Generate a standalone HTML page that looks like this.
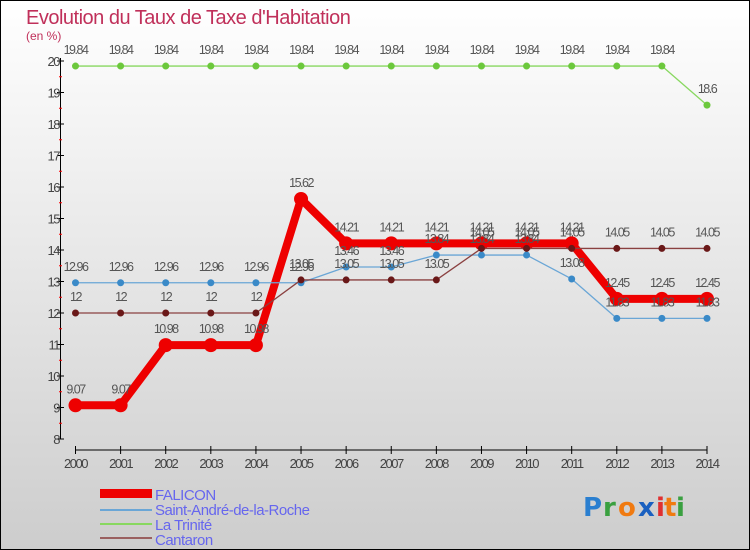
<!DOCTYPE html>
<html><head><meta charset="utf-8"><style>
body{margin:0;padding:0}
svg{display:block;font-family:"Liberation Sans",sans-serif}
</style></head><body>
<svg width="750" height="550" viewBox="0 0 750 550">
<defs><linearGradient id="bg" x1="0" y1="0" x2="0" y2="1"><stop offset="0" stop-color="#ffffff"/><stop offset="1" stop-color="#cdcdcd"/></linearGradient></defs>
<rect x="0.5" y="0.5" width="749" height="549" fill="url(#bg)" stroke="#000"/>
<text x="26" y="24" font-size="20" fill="#c0305a" letter-spacing="-0.5">Evolution du Taux de Taxe d'Habitation</text>
<text x="26" y="40" font-size="12" fill="#c0305a">(en %)</text>
<g id="axes"></g>
<g id="series"></g>
<g>
<rect x="100" y="489" width="52" height="9" fill="#e00"/>
<text x="155" y="500" font-size="15" fill="#6666ee" letter-spacing="-0.5">FALICON</text>
<line x1="100" y1="510" x2="152" y2="510" stroke="#6aa6d6" stroke-width="2"/>
<text x="155" y="515" font-size="15" fill="#6666ee" letter-spacing="-0.5">Saint-André-de-la-Roche</text>
<line x1="100" y1="524" x2="152" y2="524" stroke="#88d860" stroke-width="2"/>
<text x="155" y="530" font-size="15" fill="#6666ee" letter-spacing="-0.5">La Trinité</text>
<line x1="100" y1="538" x2="152" y2="538" stroke="#9a6060" stroke-width="2"/>
<text x="155" y="545" font-size="15" fill="#6666ee" letter-spacing="-0.5">Cantaron</text>
</g>
<g font-size="26" font-family="'DejaVu Sans',sans-serif" font-weight="bold">
<text x="583" y="516" fill="#2a7fd0">P</text><text x="603" y="516" fill="#3aa040">r</text><text x="618" y="516" fill="#f07a10">o</text><text x="638" y="516" fill="#1a60c0">x</text><text x="656" y="516" fill="#e03030">i</text><text x="664" y="516" fill="#f07a10">t</text><text x="676" y="516" fill="#3aa040">i</text>
</g>
</svg>
<script>
const years=["2000","2001","2002","2003","2004","2005","2006","2007","2008","2009","2010","2011","2012","2013","2014"];
const yTicks=[8,9,10,11,12,13,14,15,16,17,18,19,20];
const falicon=[9.07,9.07,10.98,10.98,10.98,15.62,14.21,14.21,14.21,14.21,14.21,14.21,12.45,12.45,12.45];
const saintAndre=[12.96,12.96,12.96,12.96,12.96,12.96,13.46,13.46,13.84,13.84,13.84,13.08,11.83,11.83,11.83];
const laTrinite=[19.84,19.84,19.84,19.84,19.84,19.84,19.84,19.84,19.84,19.84,19.84,19.84,19.84,19.84,18.6];
const cantaron=[12,12,12,12,12,13.05,13.05,13.05,13.05,14.05,14.05,14.05,14.05,14.05,14.05];
const NS="http://www.w3.org/2000/svg";
const xs=i=>75.5+i*(707-75.5)/14;
const ys=v=>439-(v-8)*31.5;
function mk(tag,attrs,parent){const e=document.createElementNS(NS,tag);for(const k in attrs)e.setAttribute(k,attrs[k]);parent.appendChild(e);return e;}
const ax=document.getElementById('axes');
let l=mk('line',{x1:60.5,y1:ys(20)-3,x2:60.5,y2:ys(8),stroke:'#000'},ax);


yTicks.forEach(v=>{
  mk('line',{x1:57,x2:64,y1:ys(v),y2:ys(v),stroke:'#000'},ax);
  if(v<20)mk('line',{x1:59,x2:62,y1:ys(v+0.5),y2:ys(v+0.5),stroke:'#f00'},ax);
  const t=mk('text',{x:59,y:ys(v)+5,'text-anchor':'end','font-size':13,fill:'#444','letter-spacing':'-1.5'},ax);
  t.textContent=v;
  
  
});
l=mk('line',{x1:xs(0),y1:450,x2:xs(14),y2:450,stroke:'#000'},ax);


years.forEach((y,i)=>{
  mk('line',{x1:xs(i),x2:xs(i),y1:446,y2:454,stroke:'#000'},ax);
  const t=mk('text',{x:xs(i),y:468,'text-anchor':'middle','font-size':13,fill:'#444','letter-spacing':'-1.5'},ax);
  t.textContent=y;
  
  
});
const sg=document.getElementById('series');
function series(data,name,color,mcolor,w,r){
  const g=mk('g',{},sg);
  
  
  const p=mk('polyline',{points:data.map((v,i)=>xs(i)+','+ys(v)).join(' '),fill:'none',stroke:color,'stroke-width':w,'stroke-linejoin':'round'},g);
  
  
  data.forEach((v,i)=>{
    const c=mk('circle',{cx:xs(i),cy:ys(v),r:r,fill:mcolor},g);
    
    
    const t=mk('text',{x:xs(i),y:ys(v)-12,'text-anchor':'middle','font-size':12.5,fill:'#555','letter-spacing':'-1.5'},g);
    t.textContent=String(v);
    
    
  });
}
series(falicon,'falicon','#ee0000','#ee0000',8,7);
series(saintAndre,'saint-andre','#6aa6d6','#3a8ac8',1.3,3.5);
series(laTrinite,'la-trinite','#88d860','#6cc83c',1.3,3.5);
series(cantaron,'cantaron','#8a4040','#6a1818',1.3,3.5);
</script>
</body></html>
